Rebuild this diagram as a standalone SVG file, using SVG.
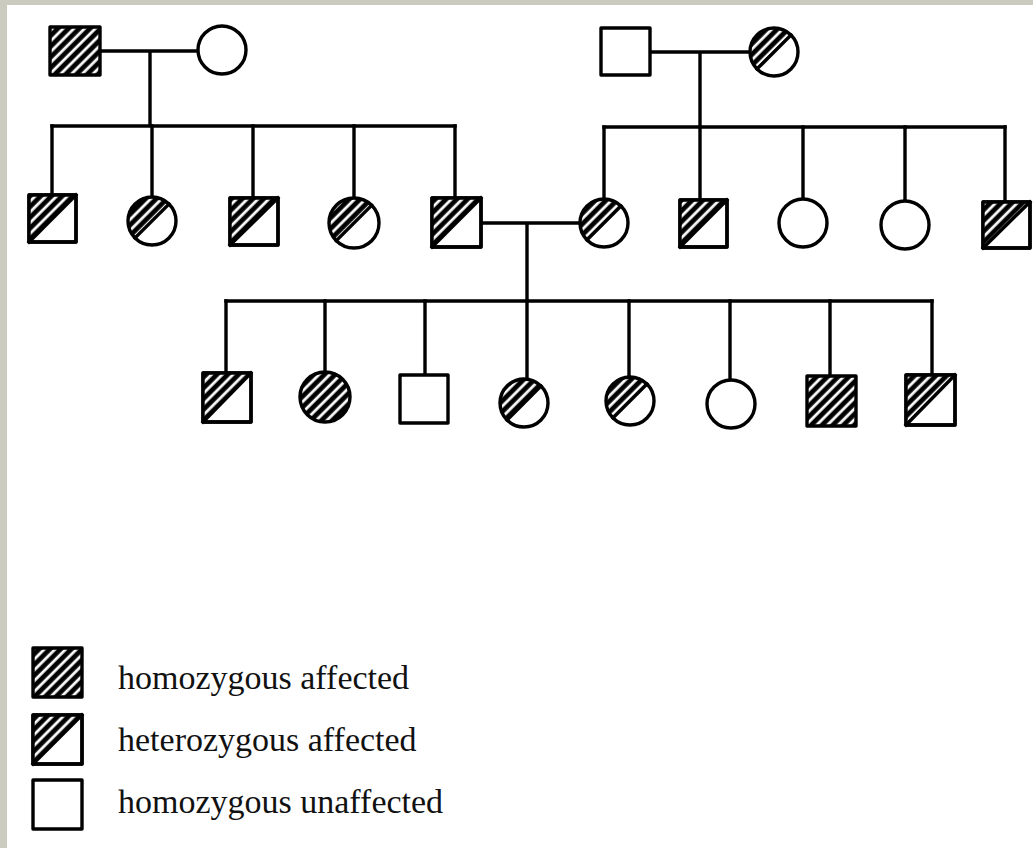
<svg xmlns="http://www.w3.org/2000/svg" width="1033" height="848" viewBox="0 0 1033 848">
<style>
.ln{stroke:#000;stroke-width:3.4;fill:none;stroke-linecap:square}
.sq{stroke:#000;stroke-width:3.4;fill:#fff;stroke-linejoin:round}
.ol{stroke:#000;stroke-width:3.4;fill:none;stroke-linejoin:round}
.ht{fill:url(#hatch)}
.lg{font-family:"Liberation Serif","Times New Roman",serif;font-size:34px;fill:#111}
</style>
<defs>
<pattern id="hatch" patternUnits="userSpaceOnUse" width="7.6" height="7.6" patternTransform="rotate(45)">
<rect width="7.6" height="7.6" fill="#000"/>
<rect x="2.6" y="0" width="2.8" height="7.6" fill="#fff"/>
</pattern>
</defs>
<rect width="1033" height="848" fill="#cbcbbf"/>
<rect x="7" y="5" width="1026" height="843" fill="#fff"/>

<g id="connectors">
<path class="ln" d="M100 51H197M150 51V126M52 126H455"/>
<path class="ln" d="M52 126V195M152 126V197M253 126V198M354 126V199M455 126V198"/>
<path class="ln" d="M650 52H750M700 52V127M604 127H1005"/>
<path class="ln" d="M604 127V199M700 127V200M803 127V199M905 127V201M1005 127V202"/>
<path class="ln" d="M481 223H580M527 223V301M226 301H932"/>
<path class="ln" d="M226 301V373M325 301V372M425 301V375M527 301V378M629 301V377M730 301V380M830 301V376M932 301V375"/>
</g>

<!-- Generation 1 -->
<g id="g1-father-left">
<rect class="ht" x="50" y="27" width="50" height="48"/>
<rect class="ol" x="50" y="27" width="50" height="48"/>
</g>
<g id="g1-mother-left"><circle class="sq" cx="222" cy="50" r="24"/></g>
<g id="g1-father-right"><rect class="sq" x="601" y="28" width="49" height="47"/></g>
<g id="g1-mother-right">
<circle cx="774" cy="52" r="24" fill="#fff"/>
<path class="ht" d="M757.03 68.97A24 24 0 0 1 790.97 35.03Z"/>
<path class="ln" d="M757.03 68.97L790.97 35.03"/>
<circle class="ol" cx="774" cy="52" r="24"/>
</g>

<!-- Generation 2 left -->
<g id="g2-1">
<rect class="sq" x="29" y="195" width="47" height="47"/>
<polygon class="ht" points="29,195 76,195 29,242"/>
<path class="ln" d="M29 242L76 195"/>
<rect class="ol" x="29" y="195" width="47" height="47"/>
</g>
<g id="g2-2">
<circle cx="152" cy="221" r="24" fill="#fff"/>
<path class="ht" d="M135.03 237.97A24 24 0 0 1 168.97 204.03Z"/>
<path class="ln" d="M135.03 237.97L168.97 204.03"/>
<circle class="ol" cx="152" cy="221" r="24"/>
</g>
<g id="g2-3">
<rect class="sq" x="230" y="198" width="48" height="47"/>
<polygon class="ht" points="230,198 278,198 230,245"/>
<path class="ln" d="M230 245L278 198"/>
<rect class="ol" x="230" y="198" width="48" height="47"/>
</g>
<g id="g2-4">
<circle cx="354" cy="223" r="25" fill="#fff"/>
<path class="ht" d="M336.32 240.68A25 25 0 0 1 371.68 205.32Z"/>
<path class="ln" d="M336.32 240.68L371.68 205.32"/>
<circle class="ol" cx="354" cy="223" r="25"/>
</g>
<g id="g2-5">
<rect class="sq" x="432" y="198" width="49" height="49"/>
<polygon class="ht" points="432,198 481,198 432,247"/>
<path class="ln" d="M432 247L481 198"/>
<rect class="ol" x="432" y="198" width="49" height="49"/>
</g>

<!-- Generation 2 right -->
<g id="g2-6">
<circle cx="604" cy="223" r="24" fill="#fff"/>
<path class="ht" d="M587.03 239.97A24 24 0 0 1 620.97 206.03Z"/>
<path class="ln" d="M587.03 239.97L620.97 206.03"/>
<circle class="ol" cx="604" cy="223" r="24"/>
</g>
<g id="g2-7">
<rect class="sq" x="680" y="200" width="47" height="47"/>
<polygon class="ht" points="680,200 727,200 680,247"/>
<path class="ln" d="M680 247L727 200"/>
<rect class="ol" x="680" y="200" width="47" height="47"/>
</g>
<g id="g2-8"><circle class="sq" cx="803" cy="223" r="24"/></g>
<g id="g2-9"><circle class="sq" cx="905" cy="225" r="24"/></g>
<g id="g2-10">
<rect class="sq" x="983" y="202" width="47" height="46"/>
<polygon class="ht" points="983,202 1030,202 983,248"/>
<path class="ln" d="M983 248L1030 202"/>
<rect class="ol" x="983" y="202" width="47" height="46"/>
</g>

<!-- Generation 3 -->
<g id="g3-1">
<rect class="sq" x="203" y="373" width="48" height="49"/>
<polygon class="ht" points="203,373 251,373 203,422"/>
<path class="ln" d="M203 422L251 373"/>
<rect class="ol" x="203" y="373" width="48" height="49"/>
</g>
<g id="g3-2">
<circle class="ht" cx="325" cy="397" r="25"/>
<circle class="ol" cx="325" cy="397" r="25"/>
</g>
<g id="g3-3"><rect class="sq" x="400" y="375" width="48" height="48"/></g>
<g id="g3-4">
<circle cx="524" cy="403" r="24" fill="#fff"/>
<path class="ht" d="M507.03 419.97A24 24 0 0 1 540.97 386.03Z"/>
<path class="ln" d="M507.03 419.97L540.97 386.03"/>
<circle class="ol" cx="524" cy="403" r="24"/>
</g>
<g id="g3-5">
<circle cx="630" cy="401" r="24" fill="#fff"/>
<path class="ht" d="M613.03 417.97A24 24 0 0 1 646.97 384.03Z"/>
<path class="ln" d="M613.03 417.97L646.97 384.03"/>
<circle class="ol" cx="630" cy="401" r="24"/>
</g>
<g id="g3-6"><circle class="sq" cx="731" cy="404" r="24"/></g>
<g id="g3-7">
<rect class="ht" x="807" y="376" width="49" height="50"/>
<rect class="ol" x="807" y="376" width="49" height="50"/>
</g>
<g id="g3-8">
<rect class="sq" x="906" y="375" width="49" height="50"/>
<polygon class="ht" points="906,375 955,375 906,425"/>
<path class="ln" d="M906 425L955 375"/>
<rect class="ol" x="906" y="375" width="49" height="50"/>
</g>

<!-- Legend -->
<g id="legend-homozygous-affected">
<rect class="ht" x="33" y="648" width="49" height="49"/>
<rect class="ol" x="33" y="648" width="49" height="49"/>
<text class="lg" x="118" y="689">homozygous affected</text>
</g>
<g id="legend-heterozygous-affected">
<rect class="sq" x="33" y="715" width="49" height="49"/>
<polygon class="ht" points="33,715 82,715 33,764"/>
<path class="ln" d="M33 764L82 715"/>
<rect class="ol" x="33" y="715" width="49" height="49"/>
<text class="lg" x="118" y="751">heterozygous affected</text>
</g>
<g id="legend-homozygous-unaffected">
<rect class="sq" x="33" y="780" width="49" height="49"/>
<text class="lg" x="118" y="813">homozygous unaffected</text>
</g>
</svg>
